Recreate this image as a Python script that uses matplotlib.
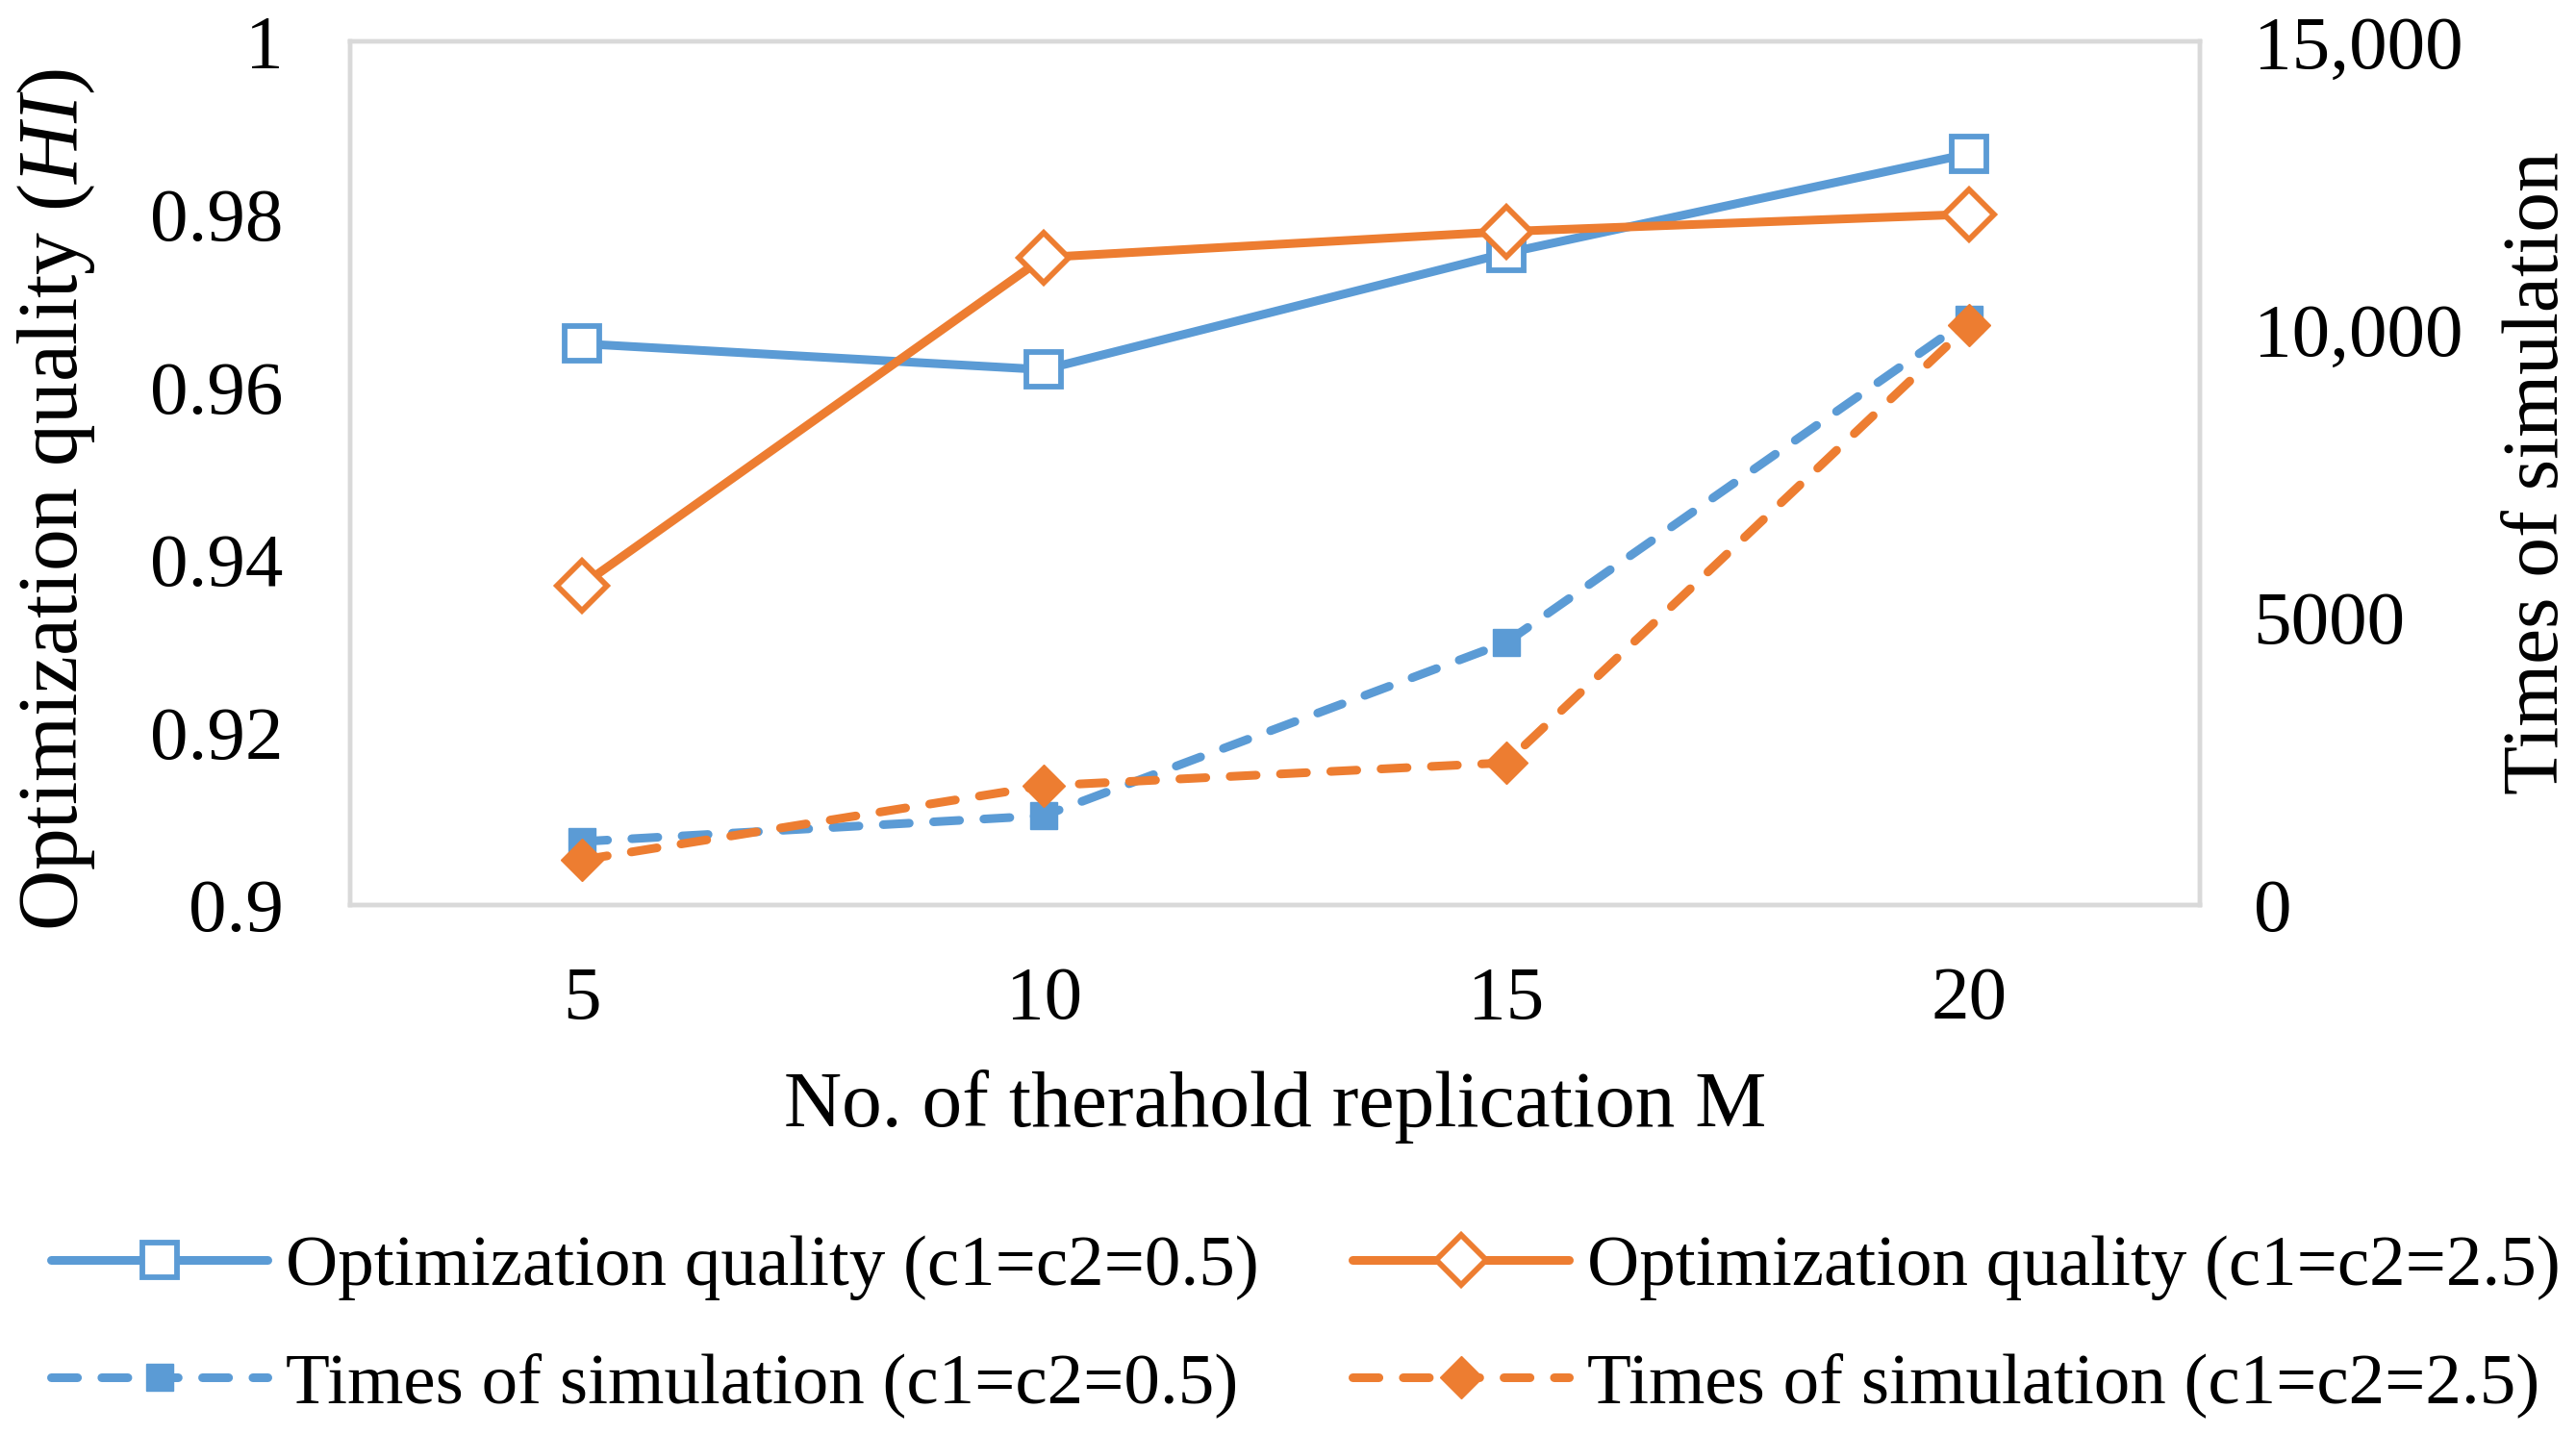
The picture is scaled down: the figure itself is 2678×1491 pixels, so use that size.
import matplotlib
matplotlib.use("Agg")
import matplotlib.pyplot as plt

plt.rcParams['font.family'] = ['Liberation Serif', 'DejaVu Serif']
plt.rcParams['mathtext.fontset'] = 'custom'
plt.rcParams['mathtext.rm'] = 'Liberation Serif'
plt.rcParams['mathtext.it'] = 'Liberation Serif:italic'

# ---- data ----
M = [5, 10, 15, 20]
quality_05 = [0.965, 0.962, 0.9755, 0.987]
quality_25 = [0.937, 0.975, 0.978, 0.980]
sims_05 = [1100, 1550, 4560, 10180]
sims_25 = [780, 2070, 2470, 10070]

left_ticks = [0.9, 0.92, 0.94, 0.96, 0.98, 1.0]
left_ticklabels = ["0.9", "0.92", "0.94", "0.96", "0.98", "1"]
right_ticks = [0, 5000, 10000, 15000]
right_ticklabels = ["0", "5000", "10,000", "15,000"]

labels = ["Optimization quality (c1=c2=0.5)", "Optimization quality (c1=c2=2.5)",
          "Times of simulation (c1=c2=0.5)", "Times of simulation (c1=c2=2.5)"]

BLUE = "#5B9BD5"
ORANGE = "#ED7D31"
GRID = "#D9D9D9"
FS_TICK = 57
FS_LAB = 60
FS_LEG = 54

fig = plt.figure(figsize=(26.78, 14.91), dpi=100)
ax = fig.add_axes([0.136, 0.369, 0.718, 0.602])
ax2 = ax.twinx()

lw = 6.5
ms = 26
mew = 4.2
dash = (3.0, 2.8)

l1, = ax.plot(M, quality_05, color=BLUE, lw=lw, marker='s', ms=ms, mfc='white',
              mec=BLUE, mew=mew, solid_capstyle='round', zorder=3)
l2, = ax.plot(M, quality_25, color=ORANGE, lw=lw, marker='D', ms=ms, mfc='white',
              mec=ORANGE, mew=mew, solid_capstyle='round', zorder=3)
l3, = ax2.plot(M, sims_05, color=BLUE, lw=lw, ls=(0, dash), marker='s', ms=ms * 0.8,
               mfc=BLUE, mec=BLUE, dash_capstyle='round', zorder=3)
l4, = ax2.plot(M, sims_25, color=ORANGE, lw=lw, ls=(0, dash), marker='D', ms=ms * 0.85,
               mfc=ORANGE, mec=ORANGE, dash_capstyle='round', zorder=3)

ax.set_xlim(2.5, 22.5)
ax.set_ylim(0.9, 1.0)
ax2.set_ylim(0, 15000)
ax.set_xticks(M)
ax.set_xticklabels([str(m) for m in M])
ax.set_yticks(left_ticks)
ax.set_yticklabels(left_ticklabels)
ax2.set_yticks(right_ticks)
ax2.set_yticklabels(right_ticklabels)

for a in (ax, ax2):
    for s in a.spines.values():
        s.set_color(GRID)
        s.set_linewidth(3.2)
    a.tick_params(length=0, labelsize=FS_TICK)
ax.tick_params(axis='y', pad=50)
ax.tick_params(axis='x', pad=46)
ax2.tick_params(axis='y', pad=40)

ax.set_xlabel("No. of therahold replication M", fontsize=FS_LAB, labelpad=26)
ax.set_ylabel(r"Optimization quality ($\mathit{HI}$)", fontsize=63)
ax.yaxis.set_label_coords(-0.137, 0.47)
ax2.set_ylabel("Times of simulation", fontsize=FS_LAB, labelpad=30)

leg = fig.legend([l1, l3, l2, l4], [labels[0], labels[2], labels[1], labels[3]],
                 ncol=2, loc='center', bbox_to_anchor=(0.507, 0.075),
                 fontsize=FS_LEG, frameon=False, handlelength=3.0, handletextpad=0.25,
                 columnspacing=1.3, labelspacing=0.72, borderpad=0.1)

fig.savefig("out.png", dpi=100)
